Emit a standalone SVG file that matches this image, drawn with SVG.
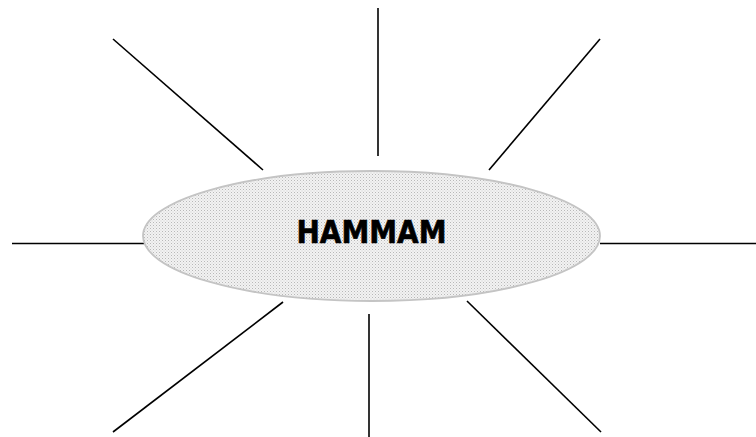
<svg xmlns="http://www.w3.org/2000/svg" width="756" height="437" viewBox="0 0 756 437">
<style>
.ray{stroke:#000;stroke-width:1.6;fill:none}
.hub{fill:url(#dots);stroke:#c4c4c4;stroke-width:1.8}
.label{font-family:"DejaVu Sans Condensed","DejaVu Sans",sans-serif;font-weight:bold;font-size:32px;fill:#000;stroke:#000;stroke-width:0.6}
</style>
<defs>
<pattern id="dots" width="3" height="3" patternUnits="userSpaceOnUse">
<rect width="3" height="3" fill="#f2f2f2"/>
<rect width="1" height="1" fill="#b8b8b8"/>
<rect x="1.5" y="1.5" width="1" height="1" fill="#d0d0d0"/>
</pattern>
</defs>
<rect width="756" height="437" fill="#fff"/>
<g id="connectors">
<line class="ray" x1="113" y1="39" x2="263" y2="170"/>
<line class="ray" x1="378" y1="8" x2="378" y2="156"/>
<line class="ray" x1="600" y1="39" x2="489" y2="170"/>
<line class="ray" x1="12" y1="243.5" x2="144" y2="243.5"/>
<line class="ray" x1="600" y1="243.5" x2="756" y2="243.5"/>
<line class="ray" x1="283" y1="302" x2="113" y2="432"/>
<line class="ray" x1="369" y1="314" x2="369" y2="437"/>
<line class="ray" x1="467" y1="301" x2="601" y2="432"/>
</g>
<g id="hammam">
<ellipse class="hub" cx="371.5" cy="236" rx="228.5" ry="65"/>
<text class="label" x="371.5" y="243" text-anchor="middle" textLength="150" lengthAdjust="spacingAndGlyphs">HAMMAM</text>
</g>
</svg>
